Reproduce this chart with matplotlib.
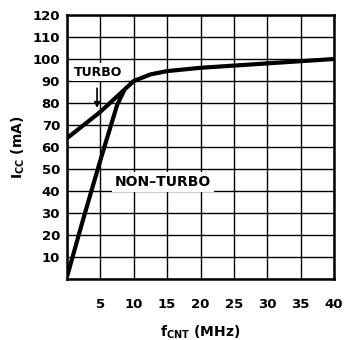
import matplotlib.pyplot as plt
import numpy as np

# curve readings (MHz, mA)
turbo_f = [0, 2.5, 5, 7.5, 10, 12.5, 15, 20, 25, 30, 35, 40]
turbo_i = [64, 70, 76, 83, 90, 93, 94.5, 96, 97, 98, 99, 100]
nonturbo_f = [0, 2.5, 5, 7.5, 8.6]
nonturbo_i = [1, 28, 54, 79, 86]

xticks = [5, 10, 15, 20, 25, 30, 35, 40]
yticks = [10, 20, 30, 40, 50, 60, 70, 80, 90, 100, 110, 120]

plt.rcParams['font.family'] = ['DejaVu Sans']
plt.rcParams['font.weight'] = 'bold'

fig = plt.figure(figsize=(3.44, 3.40), dpi=100)
ax = fig.add_axes([67/344, 1 - 279/340, 267/344, 264/340])

ax.set_xlim(0, 40)
ax.set_ylim(0, 120)
ax.set_xticks(np.arange(0, 41, 5))
ax.set_yticks(np.arange(0, 121, 10))
ax.grid(True, color='black', linewidth=1.0)
ax.set_axisbelow(True)
ax.set_xticklabels([''] + [str(t) for t in xticks])
ax.set_yticklabels([''] + [str(t) for t in yticks])
ax.tick_params(axis='x', length=0, labelsize=9.5, pad=14)
ax.tick_params(axis='y', length=0, labelsize=9.5, pad=5)
for s in ax.spines.values():
    s.set_linewidth(1.8)

ax.plot(turbo_f, turbo_i, color='black', linewidth=3, solid_capstyle='butt')
ax.plot(nonturbo_f, nonturbo_i, color='black', linewidth=3, solid_capstyle='butt')

ax.text(1.1, 94, 'TURBO', fontsize=9, fontweight='bold', va='center', ha='left',
        bbox=dict(facecolor='white', edgecolor='none', pad=2))
ax.annotate('', xy=(4.5, 76.5), xytext=(4.5, 88),
            arrowprops=dict(arrowstyle='-|>', color='black', lw=1.2, mutation_scale=8))
ax.text(7.2, 44, 'NON\u2013TURBO', fontsize=10, fontweight='bold', va='center', ha='left',
        bbox=dict(facecolor='white', edgecolor='none', pad=2))

ax.set_xlabel('f$_\\mathregular{CNT}$ (MHz)', fontsize=10, fontweight='bold', labelpad=9)
ax.set_ylabel('I$_\\mathregular{CC}$ (mA)', fontsize=10, fontweight='bold', labelpad=4)

fig.savefig('out.png', dpi=100)
